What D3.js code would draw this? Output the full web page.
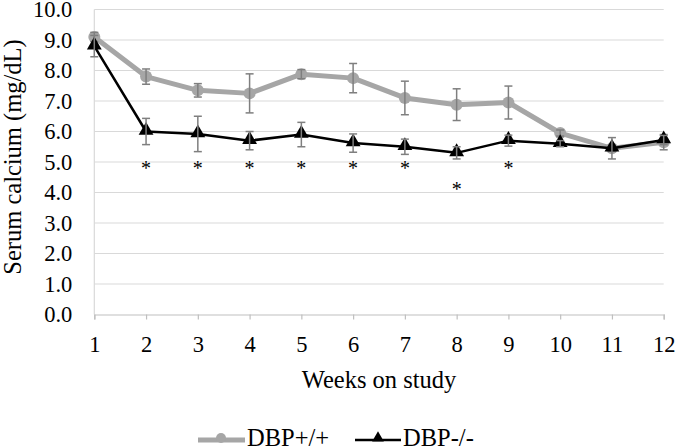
<!DOCTYPE html>
<html>
<head>
<meta charset="utf-8">
<script src="https://cdn.jsdelivr.net/npm/d3@7"></script>
<style>
html,body{margin:0;padding:0;background:#fff;}
svg{display:block;font-family:"Liberation Serif","Times New Roman",serif;}
</style>
</head>
<body>
<svg id="chart" width="677" height="448"></svg>
<script>
const weeks = [1,2,3,4,5,6,7,8,9,10,11,12];
const wildType = [9.1,7.8,7.35,7.25,7.88,7.75,7.1,6.88,6.95,5.95,5.45,5.65];
const wildTypeErr = [0.15,0.25,0.22,0.64,0.15,0.48,0.55,0.52,0.54,0.1,0.1,0.25];
const knockout = [8.8,6.0,5.92,5.7,5.9,5.62,5.5,5.3,5.7,5.6,5.45,5.72];
const knockoutErr = [0.35,0.43,0.58,0.3,0.4,0.3,0.25,0.2,0.18,0.1,0.35,0.15];
const sigWeeks = [2,3,4,5,6,7,8,9];
const sigLevel = [4.9,4.9,4.9,4.9,4.9,4.9,4.2,4.9];
const yTicks = [0,1,2,3,4,5,6,7,8,9,10];
const seriesNames = ["DBP+/+","DBP-/-"];

const FONT = "Liberation Serif, Times New Roman, serif";
const FS = 24.5;   // titles & legend
const TFS = 22.5;  // tick labels
const svg = d3.select("#chart");
const x = d3.scaleLinear().domain([1,12]).range([94.3,663.7]);
const y = d3.scaleLinear().domain([0,10]).range([314.5,9.5]);

// gridlines
svg.append("g").selectAll("line").data(yTicks.filter(d=>d>0)).join("line")
  .attr("x1",x(1)).attr("x2",x(12)).attr("y1",d=>y(d)).attr("y2",d=>y(d))
  .attr("stroke","#d9d9d9").attr("stroke-width",1.2);

// left axis line
svg.append("line").attr("x1",x(1)).attr("x2",x(1)).attr("y1",y(10)).attr("y2",y(0))
  .attr("stroke","#d9d9d9").attr("stroke-width",1.2);

// y axis
const yAxis = d3.axisLeft(y).tickValues(yTicks).tickFormat(d3.format(".1f")).tickSize(0).tickPadding(22);
const gy = svg.append("g").attr("transform",`translate(${x(1)},0)`).call(yAxis);
gy.attr("font-family",FONT).attr("font-size",TFS);
gy.select(".domain").remove();
gy.selectAll("text").attr("fill","#000");

// x axis
const xAxis = d3.axisBottom(x).tickValues(weeks).tickFormat(d3.format("d")).tickSize(5).tickPadding(16.5);
const gx = svg.append("g").attr("transform",`translate(0,${y(0)})`).call(xAxis);
gx.attr("font-family",FONT).attr("font-size",TFS);
gx.select(".domain").attr("stroke","#bfbfbf").attr("stroke-width",1.2);
gx.selectAll(".tick line").attr("stroke","#bfbfbf").attr("stroke-width",1.2);
gx.selectAll("text").attr("fill","#000");

// axis titles
svg.append("text").attr("x",379).attr("y",388).attr("text-anchor","middle")
  .attr("font-family",FONT).attr("font-size",FS).text("Weeks on study");
svg.append("text").attr("transform","translate(21,157) rotate(-90)").attr("text-anchor","middle")
  .attr("font-family",FONT).attr("font-size",FS).text("Serum calcium (mg/dL)");

function drawSeries(vals, errs, color, width, marker){
  const g = svg.append("g");
  const line = d3.line().x((d,i)=>x(weeks[i])).y(d=>y(d));
  g.append("path").datum(vals).attr("d",line).attr("fill","none")
    .attr("stroke",color).attr("stroke-width",width).attr("stroke-linejoin","round");
  if(marker==="circle"){
    g.selectAll("circle").data(vals).join("circle")
      .attr("cx",(d,i)=>x(weeks[i])).attr("cy",d=>y(d)).attr("r",6).attr("fill",color);
  } else {
    const sym = d3.symbol().type(d3.symbolTriangle).size(95);
    g.selectAll("path.m").data(vals).join("path").attr("class","m")
      .attr("d",sym()).attr("transform",(d,i)=>`translate(${x(weeks[i])},${y(d)-1})`).attr("fill",color);
  }
  const eg = g.append("g").attr("stroke","#7f7f7f").attr("stroke-width",1.5);
  vals.forEach((v,i)=>{
    const cx = x(weeks[i]), t = y(v+errs[i]), b = y(v-errs[i]);
    eg.append("line").attr("x1",cx).attr("x2",cx).attr("y1",t).attr("y2",b);
    eg.append("line").attr("x1",cx-4).attr("x2",cx+4).attr("y1",t).attr("y2",t);
    eg.append("line").attr("x1",cx-4).attr("x2",cx+4).attr("y1",b).attr("y2",b);
  });
}
drawSeries(wildType, wildTypeErr, "#a6a6a6", 5, "circle");
drawSeries(knockout, knockoutErr, "#000000", 2.5, "triangle");

// significance asterisks
svg.append("g").selectAll("text").data(sigWeeks).join("text")
  .attr("x",d=>x(d)).attr("y",(d,i)=>y(sigLevel[i])+10).attr("text-anchor","middle")
  .attr("font-family",FONT).attr("font-size",20).text("*");

// legend
const lg = svg.append("g").attr("font-family",FONT).attr("font-size",FS);
lg.append("line").attr("x1",198).attr("x2",245).attr("y1",440).attr("y2",440).attr("stroke","#a6a6a6").attr("stroke-width",5);
lg.append("circle").attr("cx",221).attr("cy",438).attr("r",5).attr("fill","#a6a6a6");
lg.append("text").attr("x",247).attr("y",446).text(seriesNames[0]);
lg.append("line").attr("x1",355).attr("x2",401).attr("y1",440).attr("y2",440).attr("stroke","#000").attr("stroke-width",2.5);
lg.append("path").attr("d",d3.symbol().type(d3.symbolTriangle).size(60)()).attr("transform","translate(378,438)").attr("fill","#000");
lg.append("text").attr("x",403).attr("y",446).text(seriesNames[1]);
</script>
</body>
</html>
